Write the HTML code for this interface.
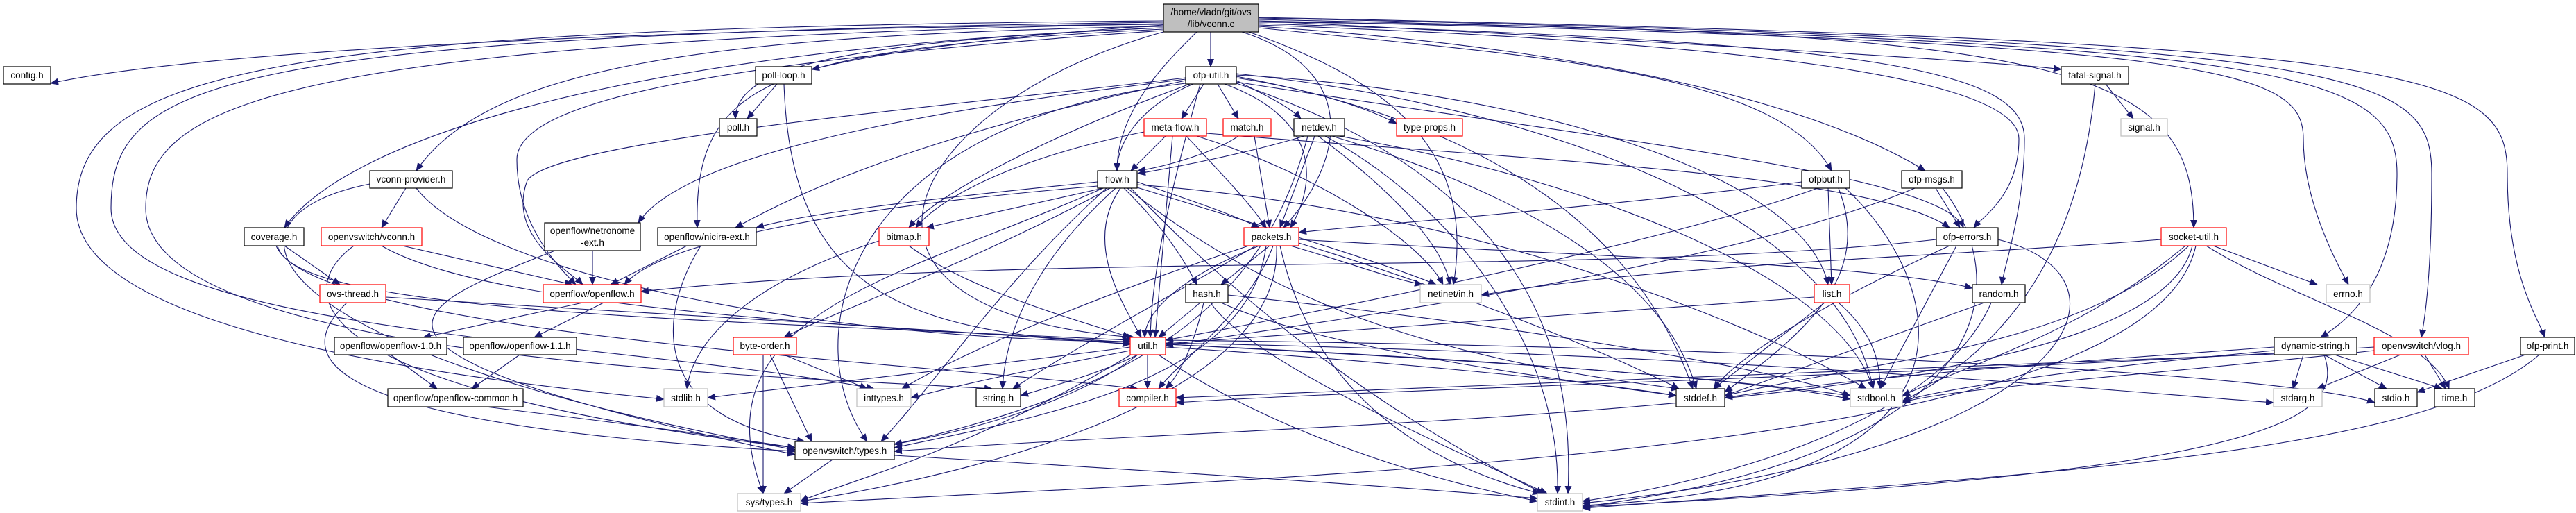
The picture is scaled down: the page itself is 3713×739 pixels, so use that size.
<!DOCTYPE html>
<html><head><meta charset="utf-8"><style>
html,body{margin:0;padding:0;background:#fff;}
svg{display:block;}
text{font-family:"Liberation Sans",sans-serif;font-size:13.5px;fill:#000;text-anchor:middle;}
.e{fill:none;stroke:#191970;stroke-width:1.1;marker-end:url(#a);}
.b{fill:#fff;stroke:#000;stroke-width:1.2;}
.r{fill:#fff;stroke:#ff0000;stroke-width:1.2;}
.g{fill:#fff;stroke:#bfbfbf;stroke-width:1.2;}
</style></head><body>
<svg width="3713" height="739" viewBox="0 0 3713 739" xmlns="http://www.w3.org/2000/svg">
<defs><marker id="a" markerWidth="12" markerHeight="10" refX="11" refY="5" orient="auto" markerUnits="userSpaceOnUse"><path d="M0,0 L12,5 L0,10 z" fill="#191970"/></marker></defs>
<g>
<!-- from top node -->
<path class="e" d="M1677,35 C1000,40 300,70 73,120"/>
<path class="e" d="M1677,38 C1000,50 700,100 600,246"/>
<path class="e" d="M1677,40 C900,70 500,200 410,328"/>
<path class="e" d="M1677,42 C1100,70 1000,120 1005,328"/>
<path class="e" d="M1677,44 C1000,90 745,150 745,230 C745,320 800,380 830,410"/>
<path class="e" d="M1677,40 C1200,60 1060,100 1060,171"/>
<path class="e" d="M1677,36 C1400,55 1250,80 1170,100"/>
<path class="e" d="M1677,30 C400,40 110,100 110,300 C110,470 600,540 957,575"/>
<path class="e" d="M1677,32 C300,50 160,120 160,300 C160,480 900,490 1260,560"/>
<path class="e" d="M1677,34 C400,60 210,150 210,300 C210,520 1100,540 1430,560"/>
<path class="e" d="M1725,46 C1680,90 1610,160 1610,246"/>
<path class="e" d="M1745,46 L1745,96"/>
<path class="e" d="M1677,46 C1300,150 1150,450 1635,486"/>
<path class="e" d="M1790,46 C1960,100 1940,230 1850,328"/>
<path class="e" d="M1800,46 C1980,110 2130,200 2095,410"/>
<path class="e" d="M1814,40 C2200,80 2560,100 2640,246"/>
<path class="e" d="M1814,38 C2300,70 2620,150 2775,246"/>
<path class="e" d="M1814,36 C2500,60 2910,110 2910,200 C2910,280 2860,310 2845,328"/>
<path class="e" d="M1814,34 C2700,60 2918,100 2918,200 C2918,300 2890,380 2885,410"/>
<path class="e" d="M1814,30 C2400,60 2900,90 2971,100"/>
<path class="e" d="M1814,32 C3000,40 3162,100 3162,328"/>
<path class="e" d="M1814,30 C3200,60 3320,100 3320,200 C3320,300 3380,400 3385,410"/>
<path class="e" d="M1814,28 C3300,60 3455,100 3455,250 C3455,420 3370,470 3345,486"/>
<path class="e" d="M1814,26 C3400,60 3505,100 3505,250 C3505,400 3495,460 3490,486"/>
<path class="e" d="M1814,25 C3500,60 3614,100 3614,250 C3614,400 3660,460 3668,486"/>
<!-- poll-loop -->
<path class="e" d="M1120,121 L1077,171"/>
<path class="e" d="M1130,121 C1140,420 1300,480 1629,495"/>
<!-- ofp-util -->
<path class="e" d="M1735,121 L1703,171"/>
<path class="e" d="M1755,121 L1785,171"/>
<path class="e" d="M1782,116 C1830,140 1860,155 1875,171"/>
<path class="e" d="M1782,112 C1900,130 1980,160 2013,178"/>
<path class="e" d="M1720,121 C1650,150 1610,200 1610,246"/>
<path class="e" d="M1709,116 C1400,180 1200,250 1060,328"/>
<path class="e" d="M1709,114 C1500,140 1000,200 920,321"/>
<path class="e" d="M1709,112 C1400,150 800,200 760,260 C730,340 820,390 840,410"/>
<path class="e" d="M1715,121 C1500,200 1350,280 1310,328"/>
<path class="e" d="M1765,121 C1900,170 1900,260 1860,328"/>
<path class="e" d="M1782,108 C2200,130 2600,250 2635,410"/>
<path class="e" d="M1782,118 C2300,200 2800,250 2830,328"/>
<path class="e" d="M1782,110 C2100,170 2350,300 2440,560"/>
<path class="e" d="M1782,106 C2200,150 2650,300 2700,560"/>
<path class="e" d="M1782,120 C2200,260 2270,500 2260,711"/>
<path class="e" d="M1730,121 C1680,300 1660,400 1658,486"/>
<path class="e" d="M1709,120 C1200,180 1150,500 1250,636"/>
<!-- meta-flow -->
<path class="e" d="M1680,196 L1630,246"/>
<path class="e" d="M1710,196 C1760,250 1800,290 1825,328"/>
<path class="e" d="M1649,190 C1450,230 1350,290 1320,328"/>
<path class="e" d="M1690,196 L1665,486"/>
<path class="e" d="M1725,196 C1900,250 2050,350 2080,410"/>
<path class="e" d="M1739,192 C2200,230 2700,250 2810,328"/>
<!-- match -->
<path class="e" d="M1785,196 C1750,220 1680,240 1640,246"/>
<path class="e" d="M1808,196 L1830,328"/>
<!-- netdev -->
<path class="e" d="M1880,196 C1800,220 1700,240 1640,250"/>
<path class="e" d="M1895,196 L1845,328"/>
<path class="e" d="M1900,196 C2000,270 2080,350 2090,410"/>
<path class="e" d="M1910,196 C2100,300 2250,500 2245,711"/>
<path class="e" d="M1920,196 C2200,280 2400,400 2445,560"/>
<path class="e" d="M1930,196 C2300,260 2650,400 2700,560"/>
<path class="e" d="M1885,196 C1830,400 1700,550 1289,640"/>
<!-- flow -->
<path class="e" d="M1582,262 C1300,290 1150,310 1090,328"/>
<path class="e" d="M1590,271 L1335,328"/>
<path class="e" d="M1639,262 C1720,290 1780,310 1815,328"/>
<path class="e" d="M1620,271 C1680,330 1710,380 1725,410"/>
<path class="e" d="M1615,271 C1560,350 1620,440 1645,486"/>
<path class="e" d="M1608,271 C1520,350 1450,450 1445,560"/>
<path class="e" d="M1625,271 C1850,450 2100,520 2420,560"/>
<path class="e" d="M1639,266 C2100,300 2500,450 2690,560"/>
<path class="e" d="M1630,271 C1800,450 2000,600 2225,711"/>
<path class="e" d="M1639,270 C1800,320 2000,380 2070,410"/>
<path class="e" d="M1600,271 C1400,380 1200,450 1130,486"/>
<path class="e" d="M1582,268 C1200,300 950,350 900,410"/>
<path class="e" d="M1590,271 C1300,400 1000,450 1100,711"/>
<path class="e" d="M1595,271 C1450,400 1350,550 1270,636"/>
<!-- vconn-provider -->
<path class="e" d="M585,271 L550,328"/>
<path class="e" d="M600,271 C700,400 1200,490 1629,492"/>
<path class="e" d="M533,265 C300,310 340,500 1146,648"/>
<!-- coverage -->
<path class="e" d="M410,354 L490,410"/>
<path class="e" d="M400,354 C420,450 1000,460 1629,490"/>
<path class="e" d="M398,354 C450,480 1300,520 1640,560"/>
<!-- vconn.h -->
<path class="e" d="M580,354 L825,410"/>
<path class="e" d="M510,354 C420,420 430,560 1146,645"/>
<path class="e" d="M550,354 C800,500 2000,480 2667,570"/>
<!-- netronome -->
<path class="e" d="M854,361 L854,410"/>
<path class="e" d="M800,361 C600,440 420,500 1146,655"/>
<!-- nicira -->
<path class="e" d="M990,354 L880,410"/>
<path class="e" d="M1010,354 C950,450 930,600 1160,636"/>
<!-- bitmap -->
<path class="e" d="M1310,354 C1400,420 1550,460 1629,486"/>
<path class="e" d="M1267,347 C1100,400 1000,480 990,560"/>
<!-- packets -->
<path class="e" d="M1830,354 L1760,410"/>
<path class="e" d="M1815,354 C1700,400 1650,450 1650,486"/>
<path class="e" d="M1800,354 C1600,420 1400,500 1300,560"/>
<path class="e" d="M1810,354 C1700,420 1550,500 1460,560"/>
<path class="e" d="M1835,354 C1800,450 1700,520 1670,560"/>
<path class="e" d="M1872,345 C2300,370 2700,380 2843,415"/>
<path class="e" d="M1860,354 C1950,380 2000,400 2050,410"/>
<path class="e" d="M1872,350 C2100,420 2300,500 2420,560"/>
<path class="e" d="M1845,354 C1900,600 2100,680 2220,711"/>
<path class="e" d="M1825,354 C1800,550 1500,600 1289,645"/>
<path class="e" d="M1840,354 C1850,600 1300,700 1154,722"/>
<!-- ofp-errors -->
<path class="e" d="M2791,345 C2300,400 1500,360 924,420"/>
<path class="e" d="M2820,354 L2710,560"/>
<path class="e" d="M2810,354 C2600,450 2500,520 2470,560"/>
<path class="e" d="M2880,345 C3100,400 3000,650 2281,725"/>
<!-- socket-util -->
<path class="e" d="M3115,345 C2800,370 2400,380 2135,425"/>
<path class="e" d="M3190,354 L3340,410"/>
<path class="e" d="M3180,354 C3300,430 3500,480 3530,560"/>
<path class="e" d="M3150,354 C3000,480 2850,520 2742,570"/>
<path class="e" d="M3160,354 C3100,600 2000,600 1289,650"/>
<path class="e" d="M3165,354 C3100,650 2000,680 1154,725"/>
<path class="e" d="M3155,354 C3000,500 2700,520 2486,570"/>
<!-- ovs-thread -->
<path class="e" d="M556,428 C900,450 1300,470 1629,496"/>
<path class="e" d="M500,436 C380,550 600,620 1146,650"/>
<!-- openflow.h -->
<path class="e" d="M840,436 L610,486"/>
<path class="e" d="M870,436 L770,486"/>
<path class="e" d="M563,511 L630,560"/>
<path class="e" d="M749,511 L680,560"/>
<path class="e" d="M700,586 C900,610 1050,630 1146,645"/>
<!-- hash -->
<path class="e" d="M1730,436 L1670,486"/>
<path class="e" d="M1745,436 C1800,520 2100,650 2230,711"/>
<path class="e" d="M1770,425 C2200,470 2550,530 2667,570"/>
<path class="e" d="M1760,436 C1900,500 2200,540 2416,570"/>
<path class="e" d="M1735,436 C1720,500 1700,540 1680,560"/>
<!-- list -->
<path class="e" d="M2615,428 C2200,460 1900,480 1680,495"/>
<path class="e" d="M2630,436 L2470,560"/>
<path class="e" d="M2650,436 C2700,480 2710,520 2710,560"/>
<!-- random -->
<path class="e" d="M2860,436 L2486,570"/>
<path class="e" d="M2870,436 C2800,600 2500,690 2281,722"/>
<!-- ofpbuf -->
<path class="e" d="M2635,271 L2640,410"/>
<path class="e" d="M2597,262 C2300,300 1900,330 1872,335"/>
<path class="e" d="M2620,271 C2400,350 1900,450 1680,490"/>
<path class="e" d="M2650,271 C2700,400 2600,480 2486,565"/>
<path class="e" d="M2660,271 C2800,400 2900,700 2281,728"/>
<!-- ofp-msgs -->
<path class="e" d="M2790,271 L2825,328"/>
<path class="e" d="M2760,271 C2500,380 2000,450 1680,498"/>
<path class="e" d="M2800,271 C2900,400 2900,650 2281,730"/>
<!-- util -->
<path class="e" d="M1629,500 C1400,530 1200,550 1020,573"/>
<path class="e" d="M1629,505 C1500,530 1400,550 1313,573"/>
<path class="e" d="M1640,511 C1580,540 1520,555 1471,570"/>
<path class="e" d="M1654,511 L1654,560"/>
<path class="e" d="M1640,511 C1550,580 1400,620 1289,640"/>
<path class="e" d="M1680,500 C2000,520 2300,550 2416,570"/>
<path class="e" d="M1680,496 C2200,520 2550,550 2667,575"/>
<path class="e" d="M1680,494 C2500,510 3000,560 3277,580"/>
<path class="e" d="M1680,490 C2600,500 3300,540 3423,580"/>
<path class="e" d="M1670,511 C1800,600 2000,680 2216,722"/>
<path class="e" d="M1630,511 C1400,650 1200,700 1154,722"/>
<!-- byte-order -->
<path class="e" d="M1130,511 L1250,560"/>
<path class="e" d="M1110,511 L1170,636"/>
<path class="e" d="M1100,511 L1100,711"/>
<!-- dynamic-string -->
<path class="e" d="M3320,511 L3305,560"/>
<path class="e" d="M3350,511 L3440,560"/>
<path class="e" d="M3365,511 L3520,560"/>
<path class="e" d="M3278,500 C3000,520 2700,540 2486,573"/>
<path class="e" d="M3278,505 C3000,530 2800,560 2742,578"/>
<path class="e" d="M3350,511 C3380,600 3300,680 2281,730"/>
<path class="e" d="M3278,510 C2600,540 2000,560 1695,573"/>
<!-- vlog -->
<path class="e" d="M3460,511 L3340,560"/>
<path class="e" d="M3495,511 L3525,560"/>
<path class="e" d="M3422,505 C3100,540 2800,560 2742,580"/>
<path class="e" d="M3422,500 C2800,540 2000,560 1695,580"/>
<!-- ofp-print -->
<path class="e" d="M3640,511 L3484,565"/>
<path class="e" d="M3660,511 C3500,650 3000,680 2281,732"/>
<!-- fatal-signal -->
<path class="e" d="M3035,121 L3075,171"/>
<path class="e" d="M3020,121 C3000,350 2900,500 2742,578"/>
<!-- types -->
<path class="e" d="M1200,662 L1130,711"/>
<path class="e" d="M1289,656 C1700,680 2000,700 2216,718"/>
</g>
<g>
<rect x="1677" y="6" width="137" height="40" fill="#bfbfbf" stroke="#000" stroke-width="1.2"/>
<text x="1745.5" y="22">/home/vladn/git/ovs</text><text x="1745.5" y="39">/lib/vconn.c</text>
<rect class="b" x="5" y="96" width="68" height="25"/><text x="39" y="113">config.h</text>
<rect class="b" x="1089" y="96" width="81" height="25"/><text x="1129.5" y="113">poll-loop.h</text>
<rect class="b" x="1709" y="96" width="73" height="25"/><text x="1745.5" y="113">ofp-util.h</text>
<rect class="b" x="2971" y="96" width="97" height="25"/><text x="3019.5" y="113">fatal-signal.h</text>
<rect class="b" x="1037" y="171" width="54" height="25"/><text x="1064" y="188">poll.h</text>
<rect class="r" x="1649" y="171" width="90" height="25"/><text x="1694" y="188">meta-flow.h</text>
<rect class="r" x="1763" y="171" width="69" height="25"/><text x="1797.5" y="188">match.h</text>
<rect class="b" x="1865" y="171" width="73" height="25"/><text x="1901.5" y="188">netdev.h</text>
<rect class="r" x="2013" y="171" width="95" height="25"/><text x="2060.5" y="188">type-props.h</text>
<rect class="g" x="3057" y="171" width="67" height="25"/><text x="3090.5" y="188">signal.h</text>
<rect class="b" x="533" y="246" width="119" height="25"/><text x="592.5" y="263">vconn-provider.h</text>
<rect class="b" x="1582" y="246" width="57" height="25"/><text x="1610.5" y="263">flow.h</text>
<rect class="b" x="2597" y="246" width="69" height="25"/><text x="2631.5" y="263">ofpbuf.h</text>
<rect class="b" x="2741" y="246" width="87" height="25"/><text x="2784.5" y="263">ofp-msgs.h</text>
<rect class="b" x="352" y="328" width="86" height="26"/><text x="395" y="346">coverage.h</text>
<rect class="r" x="463" y="328" width="145" height="26"/><text x="535.5" y="346">openvswitch/vconn.h</text>
<rect class="b" x="785" y="321" width="138" height="40"/><text x="854" y="337">openflow/netronome</text><text x="854" y="354">-ext.h</text>
<rect class="b" x="948" y="328" width="142" height="26"/><text x="1019" y="346">openflow/nicira-ext.h</text>
<rect class="r" x="1267" y="328" width="72" height="26"/><text x="1303" y="346">bitmap.h</text>
<rect class="r" x="1793" y="328" width="79" height="26"/><text x="1832.5" y="346">packets.h</text>
<rect class="b" x="2791" y="328" width="89" height="26"/><text x="2835.5" y="346">ofp-errors.h</text>
<rect class="r" x="3115" y="328" width="94" height="26"/><text x="3162" y="346">socket-util.h</text>
<rect class="r" x="461" y="410" width="95" height="26"/><text x="508.5" y="428">ovs-thread.h</text>
<rect class="r" x="783" y="410" width="141" height="26"/><text x="853.5" y="428">openflow/openflow.h</text>
<rect class="b" x="1709" y="410" width="61" height="26"/><text x="1739.5" y="428">hash.h</text>
<rect class="g" x="2047" y="410" width="88" height="26"/><text x="2091" y="428">netinet/in.h</text>
<rect class="r" x="2615" y="410" width="51" height="26"/><text x="2640.5" y="428">list.h</text>
<rect class="b" x="2843" y="410" width="76" height="26"/><text x="2881" y="428">random.h</text>
<rect class="g" x="3353" y="410" width="63" height="26"/><text x="3384.5" y="428">errno.h</text>
<rect class="b" x="482" y="486" width="162" height="25"/><text x="563" y="503">openflow/openflow-1.0.h</text>
<rect class="b" x="668" y="486" width="163" height="25"/><text x="749.5" y="503">openflow/openflow-1.1.h</text>
<rect class="r" x="1057" y="486" width="91" height="25"/><text x="1102.5" y="503">byte-order.h</text>
<rect class="r" x="1629" y="486" width="51" height="25"/><text x="1654.5" y="503">util.h</text>
<rect class="b" x="3278" y="486" width="119" height="25"/><text x="3337.5" y="503">dynamic-string.h</text>
<rect class="r" x="3422" y="486" width="136" height="25"/><text x="3490" y="503">openvswitch/vlog.h</text>
<rect class="b" x="3633" y="486" width="78" height="25"/><text x="3672" y="503">ofp-print.h</text>
<rect class="b" x="559" y="560" width="195" height="26"/><text x="656.5" y="578">openflow/openflow-common.h</text>
<rect class="g" x="957" y="560" width="63" height="26"/><text x="988.5" y="578">stdlib.h</text>
<rect class="g" x="1235" y="560" width="78" height="26"/><text x="1274" y="578">inttypes.h</text>
<rect class="b" x="1407" y="560" width="64" height="26"/><text x="1439" y="578">string.h</text>
<rect class="r" x="1613" y="560" width="82" height="26"/><text x="1654" y="578">compiler.h</text>
<rect class="b" x="2416" y="560" width="70" height="26"/><text x="2451" y="578">stddef.h</text>
<rect class="g" x="2667" y="560" width="75" height="26"/><text x="2704.5" y="578">stdbool.h</text>
<rect class="g" x="3277" y="560" width="70" height="26"/><text x="3312" y="578">stdarg.h</text>
<rect class="b" x="3423" y="560" width="61" height="26"/><text x="3453.5" y="578">stdio.h</text>
<rect class="b" x="3509" y="560" width="58" height="26"/><text x="3538" y="578">time.h</text>
<rect class="b" x="1146" y="636" width="143" height="26"/><text x="1217.5" y="654">openvswitch/types.h</text>
<rect class="g" x="1063" y="711" width="91" height="25"/><text x="1108.5" y="728">sys/types.h</text>
<rect class="g" x="2216" y="711" width="65" height="25"/><text x="2248.5" y="728">stdint.h</text>
</g>
</svg>
</body></html>
